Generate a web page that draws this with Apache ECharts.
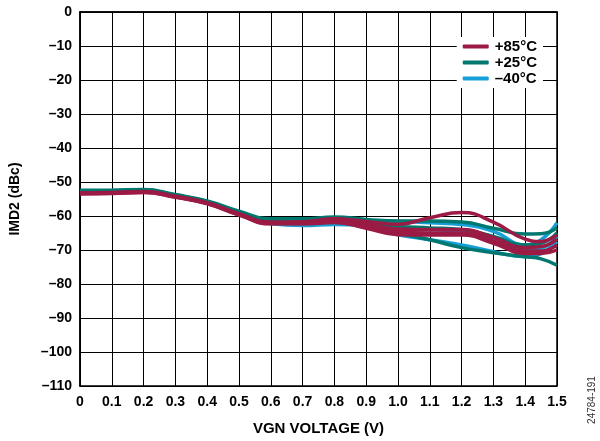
<!DOCTYPE html>
<html><head><meta charset="utf-8">
<script src="https://cdn.jsdelivr.net/npm/echarts@6/dist/echarts.min.js"></script>
<style>html,body{margin:0;padding:0;background:#fff}#c{width:600px;height:441px}</style>
</head><body><div id="c"></div>
<script>
const xs = [0,0.1,0.2,0.3,0.4,0.5,0.6,0.7,0.8,0.9,1.0,1.1,1.2,1.3,1.4,1.45,1.5];
const m1 = [-53.2,-53.1,-52.8,-54.2,-56.1,-59.3,-61.8,-61.7,-60.8,-61.6,-62.4,-60.5,-59.0,-61.8,-66.8,-67.5,-65.5];
const m2 = [-53.3,-53.2,-52.9,-54.3,-56.2,-59.4,-62.0,-62.0,-61.3,-62.5,-63.8,-64.0,-64.0,-66.3,-69.3,-69.0,-66.8];
const m3 = [-53.4,-53.3,-53.0,-54.4,-56.3,-59.6,-62.2,-62.2,-61.6,-63.0,-64.6,-65.0,-65.0,-67.3,-70.3,-70.3,-68.5];
const m4 = [-53.5,-53.4,-53.1,-54.5,-56.4,-59.7,-62.3,-62.3,-61.9,-63.6,-65.5,-65.6,-65.6,-68.0,-71.0,-71.0,-70.0];
const t1 = [-52.4,-52.4,-52.2,-53.7,-55.6,-58.6,-60.8,-60.8,-60.3,-61.0,-61.5,-61.5,-61.8,-63.6,-65.3,-65.2,-63.5];
const t2 = [-52.7,-52.6,-52.4,-53.9,-55.8,-58.9,-61.2,-61.2,-61.0,-62.0,-63.0,-63.5,-64.0,-66.0,-68.5,-68.0,-65.0];
const t3 = [-52.9,-52.8,-52.6,-54.1,-56.0,-59.1,-61.6,-61.8,-61.6,-62.8,-65.0,-67.0,-69.3,-70.8,-72.0,-72.6,-74.5];
const c1 = [-52.6,-52.5,-52.3,-53.9,-55.8,-58.9,-61.3,-61.5,-61.2,-61.3,-61.6,-62.0,-62.5,-64.5,-68.5,-67.0,-62.0];
const c2 = [-52.9,-52.8,-52.6,-54.1,-56.1,-59.3,-61.9,-62.3,-62.0,-62.6,-63.6,-64.0,-64.5,-67.0,-70.0,-69.5,-66.0];
const c3 = [-53.1,-53.0,-52.8,-54.3,-56.3,-59.6,-62.3,-62.8,-62.5,-63.2,-65.5,-67.0,-68.5,-70.5,-72.0,-71.0,-67.5];
const names = ['+85°C','+25°C','\u201340°C'];
const colors = ['#9b1b45','#00786f','#159fd6'];
const groups = [[c1,c2,c3],[t1,t2,t3],[m1,m2,m3,m4]];
const groupIdx = [2,1,0];

const series = [];
groups.forEach((g, gi) => {
  const k = groupIdx[gi];
  g.forEach(ys => {
    series.push({
      name: names[k], type: 'line', smooth: 0.5, showSymbol: false,
      data: xs.map((x, i) => [x, ys[i]]),
      lineStyle: { color: colors[k], width: 3.5 }, itemStyle: { color: colors[k] },
      emphasis: { disabled: true }, silent: true
    });
  });
});

const font = 'Liberation Sans, Arial, sans-serif';
const chart = echarts.init(document.getElementById('c'), null, { renderer: 'canvas' });
chart.setOption({
  animation: false,
  grid: { left: 80, right: 43, top: 12, bottom: 53, show: true, borderColor: '#000', borderWidth: 1.5, backgroundColor: 'transparent' },
  legend: {
    data: names, orient: 'vertical', right: 57, top: 37, itemGap: 1,
    itemWidth: 26, itemHeight: 4, icon: 'roundRect', backgroundColor: '#fff', padding: [2, 6, 2, 6],
    textStyle: { fontFamily: font, fontWeight: 'bold', fontSize: 15, color: '#000', padding: [0,0,0,1] }
  },
  xAxis: {
    type: 'value', min: 0, max: 1.5, interval: 0.1,
    name: 'VGN VOLTAGE (V)', nameLocation: 'middle', nameGap: 35,
    nameTextStyle: { fontFamily: font, fontWeight: 'bold', fontSize: 15, color: '#000' },
    axisLine: { show: true, lineStyle: { color: '#000', width: 1.5 } },
    axisTick: { show: false },
    axisLabel: { fontFamily: font, fontWeight: 'bold', fontSize: 14, color: '#000', margin: 9,
      formatter: v => (Math.abs(v) < 1e-9 ? '0' : v.toFixed(1)) },
    splitLine: { show: true, lineStyle: { color: '#000', width: 1 } }
  },
  yAxis: {
    type: 'value', min: -110, max: 0, interval: 10,
    name: 'IMD2 (dBc)', nameLocation: 'middle', nameGap: 58, nameRotate: 90,
    nameTextStyle: { fontFamily: font, fontWeight: 'bold', fontSize: 14, color: '#000' },
    axisLine: { show: true, lineStyle: { color: '#000', width: 1.5 } },
    axisTick: { show: false },
    axisLabel: { fontFamily: font, fontWeight: 'bold', fontSize: 14, color: '#000', margin: 8,
      formatter: v => (v < 0 ? '\u2013' + Math.abs(v) : String(v)) },
    splitLine: { show: true, lineStyle: { color: '#000', width: 1 } }
  },
  graphic: [{
    type: 'text', x: 592, y: 400, rotation: Math.PI / 2,
    style: { text: '24784-191', fontFamily: font, fontSize: 10, fill: '#333', align: 'center', verticalAlign: 'middle' }
  }],
  series: series
});
</script></body></html>
